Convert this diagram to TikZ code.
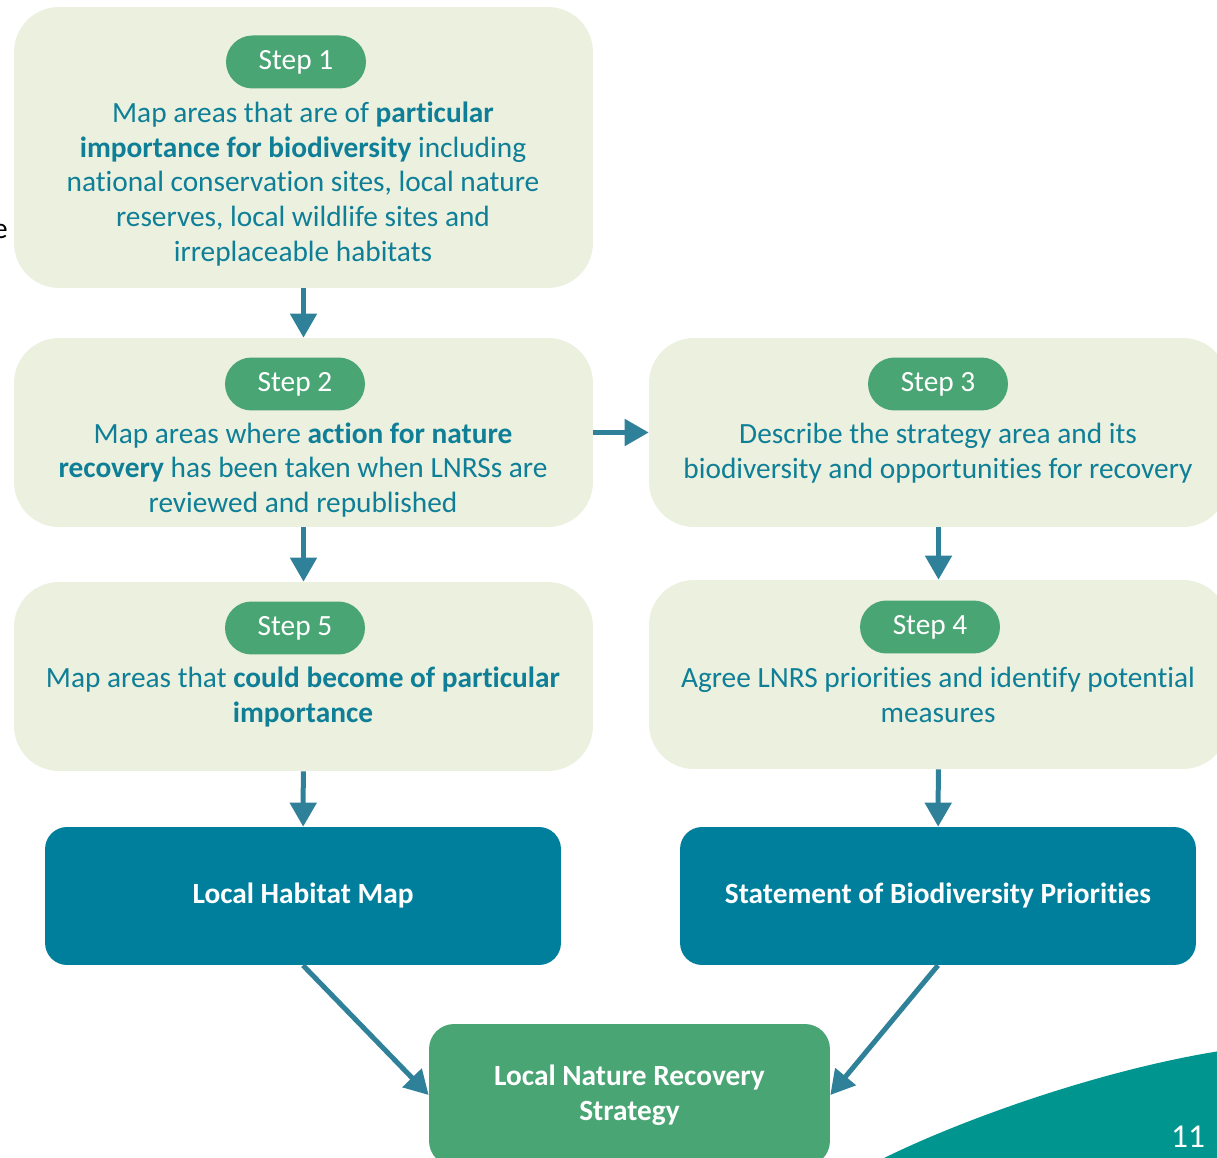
\documentclass[tikz,border=0pt]{standalone}
\usepackage{fontspec}
\setmainfont{Carlito}[Ligatures=NoCommon]
\usetikzlibrary{arrows.meta, positioning}
\definecolor{cpanel}{HTML}{EBF0DF}
\definecolor{cgreen}{HTML}{4AA574}
\definecolor{cteal}{HTML}{0E7F97}
\definecolor{cdark}{HTML}{007F9C}
\definecolor{carrow}{HTML}{2F8199}
\definecolor{cwave}{HTML}{00968F}
\tikzset{
  every picture/.style={font=\fontsize{16.7}{19.85}\selectfont},
  panel/.style={fill=cpanel, rounded corners=0.9cm, minimum width=11.58cm, inner sep=0pt},
  tag/.style={fill=cgreen, text=white, rounded corners=0.53cm, minimum width=2.8cm, minimum height=1.06cm, inner sep=0pt},
  body/.style={text=cteal, align=center, inner sep=0pt},
  result/.style={fill=#1, text=white, font=\fontsize{16.7}{19.85}\selectfont\bfseries, align=center, rounded corners=0.44cm, inner sep=0pt},
  result/.default=cdark,
  arrow/.style={-{Triangle[length=0.48cm, width=0.52cm]}, draw=carrow, line width=0.1cm},
}

\begin{document}
\begin{tikzpicture}[x=0.02cm, y=-0.02cm]
  \useasboundingbox (0,0) rectangle (1217,1158);
  % wave in the corner and page number
  \fill[cwave] (880,1160) .. controls (960,1120) and (1100,1070) .. (1220,1051) -- (1220,1160) -- cycle;
  \node[text=white, font=\fontsize{19}{22}\selectfont] (page) at (1188,1137) {11};
  \node[anchor=east, text=black, inner sep=0pt] (cut) at (8,231) {e};

  % the five steps
  \node[panel, minimum height=5.62cm] (s1) at (303.5,147.5) {};
  \node[panel, minimum height=3.78cm] (s2) at (303.5,432.5) {};
  \node[panel, minimum height=3.78cm] (s3) at (938.5,432.5) {};
  \node[panel, minimum height=3.78cm] (s4) at (938.5,674.5) {};
  \node[panel, minimum height=3.78cm] (s5) at (303.5,676.5) {};
  \foreach \i/\x/\y in {1/296/62, 2/295/384, 3/938/384, 4/930/627, 5/295/628} {
    \node[tag] (t\i) at (\x,\y) {Step \i};
  }
  \node[body] (b1) at (303,184) {Map areas that are of \textbf{particular}\\ \textbf{importance for biodiversity} including\\ national conservation sites, local nature\\ reserves, local wildlife sites and\\ irreplaceable habitats};
  \node[body] (b2) at (303,470) {Map areas where \textbf{action for nature}\\ \textbf{recovery} has been taken when LNRSs are\\ reviewed and republished};
  \node[body] (b3) at (938,453) {Describe the strategy area and its\\ biodiversity and opportunities for recovery};
  \node[body] (b4) at (938,695) {Agree LNRS priorities and identify potential\\ measures};
  \node[body] (b5) at (303,697) {Map areas that \textbf{could become of particular}\\ \textbf{importance}};

  % outputs
  \node[result, minimum width=10.32cm, minimum height=2.76cm] (lhm) at (303,896) {Local Habitat Map};
  \node[result, minimum width=10.32cm, minimum height=2.76cm] (sbp) at (938,896) {Statement of Biodiversity Priorities};
  \node[result=cgreen, rounded corners=0.5cm, minimum width=8.02cm, minimum height=2.84cm] (lnrs) at (629.5,1095) {Local Nature Recovery\\ Strategy};

  \draw[arrow] (s1) -- (s2);
  \draw[arrow] (s2) -- (s3);
  \draw[arrow] (s2) -- (s5);
  \draw[arrow] (s3) -- (s4);
  \draw[arrow] (s5) -- (lhm);
  \draw[arrow] (s4) -- (sbp);
  \draw[arrow] (lhm.south) -- (lnrs.west);
  \draw[arrow] (sbp.south) -- (lnrs.east);
\end{tikzpicture}
\end{document}
